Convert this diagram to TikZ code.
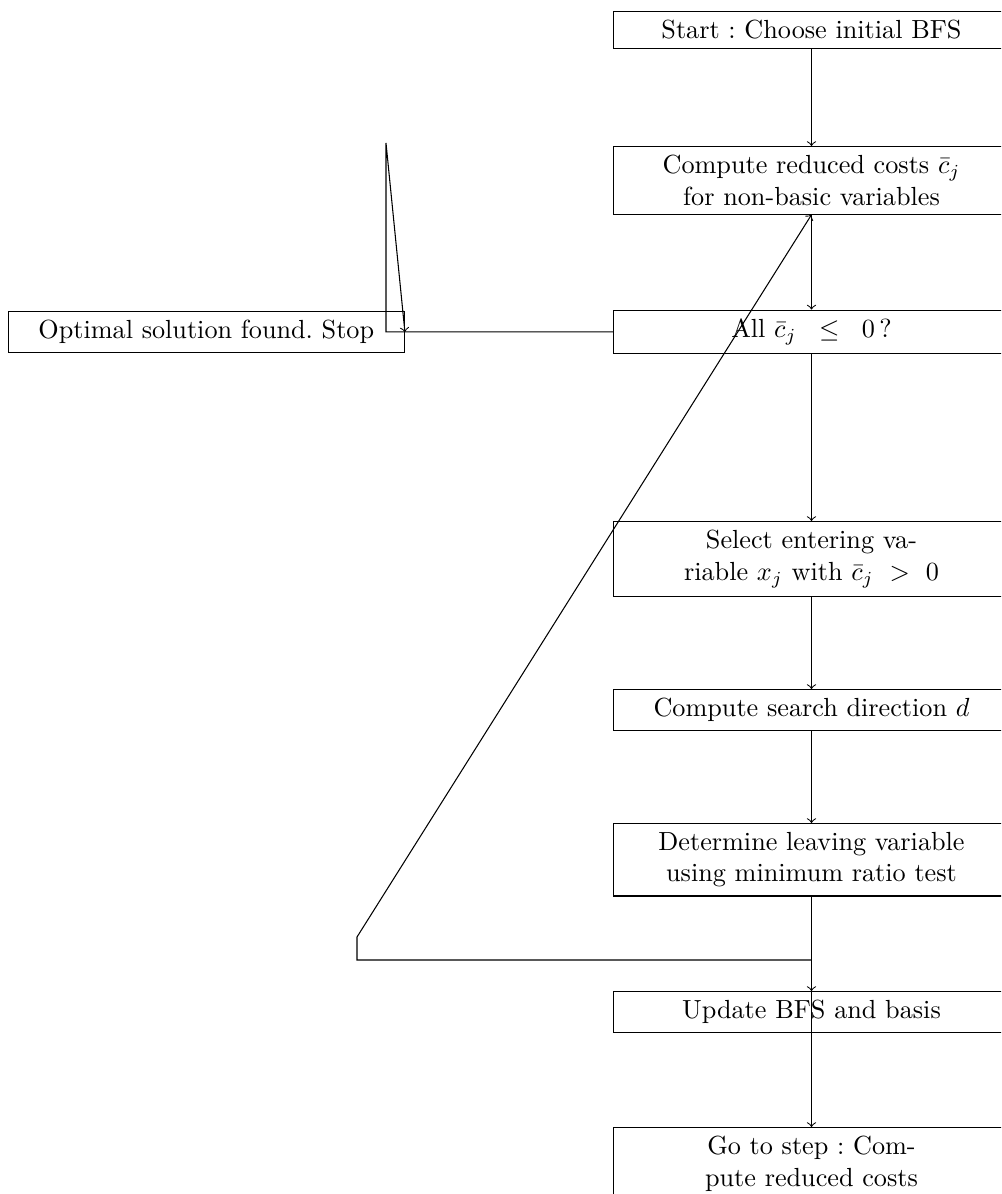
\documentclass[tikz,border=0pt]{standalone}
\usetikzlibrary{calc}
\hyphenation{va-riable}
\frenchspacing
\begin{document}
\begin{tikzpicture}[x=0.38168pt,y=-0.38168pt,
  box/.style={draw,anchor=north,text width=2in,align=center,inner sep=3.333pt},
  arr/.style={->}]
\useasboundingbox (0,0) rectangle (1001,1194);
\clip (0,0) rectangle (1001,1194);
\node[box] (start) at (811.5,11) {Start : Choose initial BFS};
\node[box] (comp) at (811.5,146) {Compute reduced costs $\bar{c}_j$ for non-basic variables};
\node[box] (all) at (811.5,309.5) {All $\bar{c}_j \leq 0$\,?};
\node[box] (sel) at (811.5,521) {Select entering va\-riable $x_j$ with $\bar{c}_j > 0$};
\node[box] (dir) at (811.5,689) {Compute search direction $d$};
\node[box] (det) at (811.5,823) {Determine leaving variable using minimum ratio test};
\node[box] (upd) at (811.5,991) {Update BFS and basis};
\node[box] (go) at (811.5,1127) {Go to step : Compute reduced costs};
\node[box] (opt) at (206.3,311) {Optimal solution found. Stop};
\coordinate (l1) at (386,331);
\coordinate (l2) at (386,143);
\coordinate (b1) at (811.5,960);
\coordinate (b2) at (357,960);
\coordinate (b3) at (357,937);
\draw[arr] (start.south) -- (comp.north);
\draw[arr] (comp.south) -- (all.north);
\draw[arr] (all.south) -- (sel.north);
\draw[arr] (sel.south) -- (dir.north);
\draw[arr] (dir.south) -- (det.north);
\draw[arr] (det.south) -- (upd.north);
\draw[arr] (upd.north) -- (go.north);
\draw[arr] (b1) -- (b2) -- (b3) -- (comp.south);
\draw[arr] (all.west) -- (all.west -| l1) -- (l2) -- (opt.east);
\end{tikzpicture}
\end{document}
